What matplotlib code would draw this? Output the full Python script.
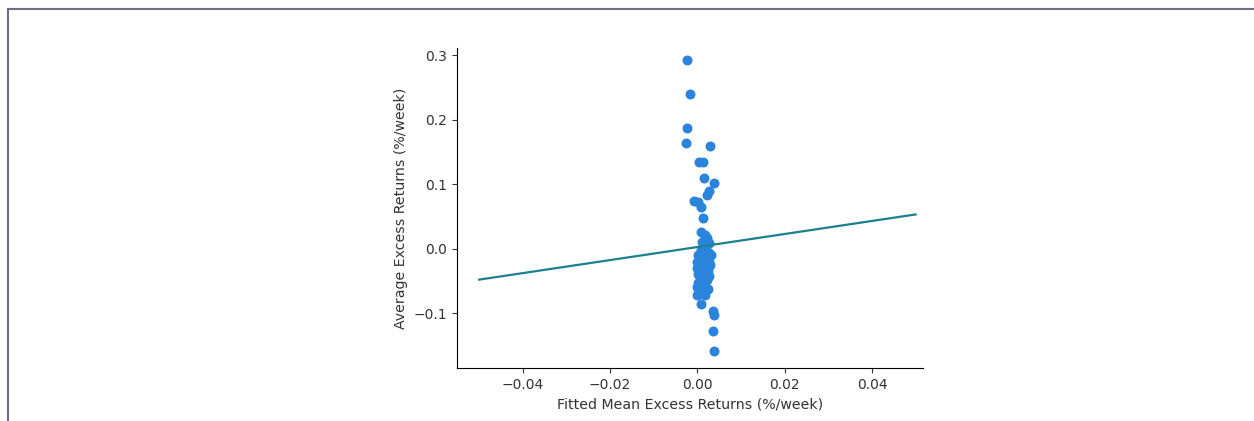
import matplotlib
matplotlib.use("Agg")
from matplotlib import pyplot as plt
from matplotlib.lines import Line2D

# fitted mean excess returns vs average excess returns (%/week)
fitted = [-0.0024, -0.0018, -0.0024, -0.0026, 0.0028, 0.0003, 0.0013,
          0.0016, 0.0037, 0.0027, 0.0022, -0.0008, 0.0002, 0.0009,
          0.0013, 0.0009, 0.0018, 0.0022, 0.0031, -0.0001, 0.0009,
          0.0018, 0.0036, 0.0037, 0.0036, 0.0037,
          # dense cluster around zero
          0.0010, 0.0015, 0.0008, 0.0020, 0.0012, 0.0017, 0.0006, 0.0022,
          0.0011, 0.0014, 0.0019, 0.0007, 0.0013, 0.0024, 0.0009, 0.0016,
          0.0005, 0.0012, 0.0021, 0.0010, 0.0018, 0.0008, 0.0014, 0.0003,
          0.0011, 0.0017, 0.0006, 0.0020, 0.0013, 0.0009, 0.0015, 0.0004,
          0.0026, 0.0027, 0.0001, 0.0025, 0.0000, 0.0023, 0.0002, 0.0028,
          0.0024, 0.0001, 0.0026, -0.0002, 0.0023, 0.0004, 0.0027, 0.0000]
average = [0.292, 0.239, 0.187, 0.163, 0.159, 0.134, 0.134,
           0.110, 0.102, 0.090, 0.083, 0.074, 0.072, 0.065,
           0.047, 0.026, 0.021, 0.016, -0.010, -0.072, -0.086,
           -0.072, -0.096, -0.103, -0.127, -0.158,
           0.010, 0.004, -0.002, 0.000, -0.008, -0.014, -0.018, -0.012,
           -0.024, -0.028, -0.022, -0.032, -0.036, -0.030, -0.040, -0.044,
           -0.046, -0.050, -0.042, -0.054, -0.058, -0.060, -0.064, -0.066,
           -0.048, -0.038, -0.026, 0.006, -0.016, -0.056, -0.068, -0.062,
           0.008, -0.020, -0.010, -0.034, -0.030, -0.048, -0.054, -0.026,
           -0.062, -0.040, -0.006, -0.020, 0.014, -0.070, -0.042, -0.060]

# regression line
line_x = [-0.05, 0.05]
line_y = [-0.048, 0.053]

fig = plt.figure(figsize=(12.54, 4.21), dpi=100)
ax = fig.add_axes([457 / 1254, 53 / 421, 466 / 1254, 320 / 421])

ax.scatter(fitted, average, s=38, color="#2a84dc", zorder=2)
ax.plot(line_x, line_y, color="#1d7f8f", lw=1.6, zorder=3)

ax.set_xlim(-0.0551, 0.0517)
ax.set_ylim(-0.185, 0.311)
ax.set_xticks([-0.04, -0.02, 0.0, 0.02, 0.04])
ax.set_yticks([-0.1, 0.0, 0.1, 0.2, 0.3])
ax.tick_params(labelsize=10, colors="#333333")
ax.spines["top"].set_visible(False)
ax.spines["right"].set_visible(False)

ax.set_xlabel("Fitted Mean Excess Returns (%/week)", fontsize=10.2, color="#333333")
ax.set_ylabel("Average Excess Returns (%/week)", fontsize=10.2, color="#333333")

# page frame around the figure
fig.add_artist(Line2D([8 / 1254, 8 / 1254], [0, 1 - 8.5 / 421],
                      color="#6e6e80", lw=1.5, transform=fig.transFigure))
fig.add_artist(Line2D([8 / 1254, 1], [1 - 8.5 / 421, 1 - 8.5 / 421],
                      color="#6e6e80", lw=1.5, transform=fig.transFigure))

fig.savefig("out.png", dpi=100)
